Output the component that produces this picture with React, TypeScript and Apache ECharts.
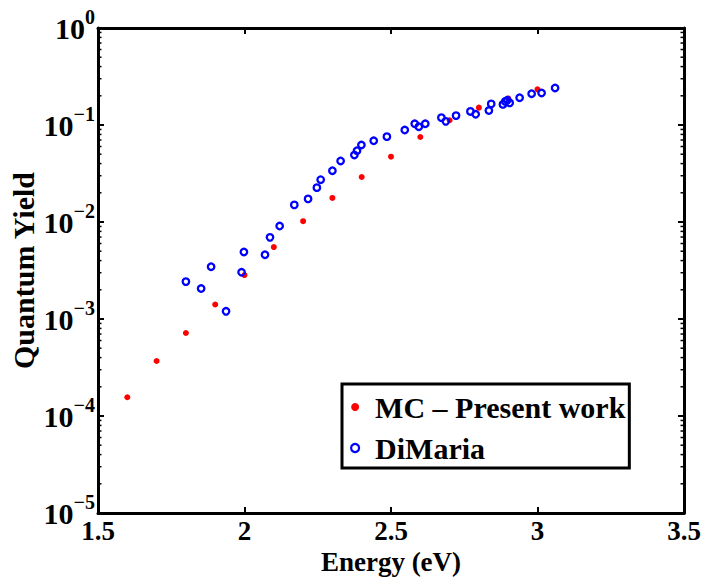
import React, { useEffect, useRef } from "react";
import * as echarts from "echarts";

const mcEnergy = [1.6, 1.7, 1.8, 1.9, 2.0, 2.1, 2.2, 2.3, 2.4, 2.5, 2.6, 2.7, 2.8, 2.9, 3.0];
const mcYield = [1.56e-4, 3.69e-4, 7.17e-4, 1.41e-3, 2.84e-3, 5.52e-3, 1.02e-2, 1.77e-2, 2.91e-2, 4.71e-2, 7.52e-2, 0.112, 0.151, 0.188, 0.233];

const diEnergy = [1.8, 1.852, 1.886, 1.937, 1.99, 1.998, 2.07, 2.087, 2.12, 2.17, 2.217, 2.247, 2.26, 2.3, 2.328, 2.375, 2.384, 2.399, 2.441, 2.486, 2.547, 2.581, 2.595, 2.617, 2.672, 2.687, 2.722, 2.771, 2.789, 2.834, 2.842, 2.882, 2.89, 2.897, 2.905, 2.939, 2.98, 3.014, 3.06];
const diYield = [2.43e-3, 2.06e-3, 3.46e-3, 1.2e-3, 3.03e-3, 4.91e-3, 4.6e-3, 6.95e-3, 9.09e-3, 1.5e-2, 1.73e-2, 2.26e-2, 2.73e-2, 3.38e-2, 4.26e-2, 4.91e-2, 5.43e-2, 6.22e-2, 6.88e-2, 7.58e-2, 8.88e-2, 0.103, 0.096, 0.103, 0.119, 0.109, 0.125, 0.138, 0.129, 0.141, 0.165, 0.163, 0.175, 0.18, 0.169, 0.191, 0.21, 0.214, 0.241];

const yTickExponents = [-5, -4, -3, -2, -1, 0];
const minorMantissas = [2, 3, 4, 5, 6, 7, 8, 9];
const seriesNames = ["MC \u2013 Present work", "DiMaria"];

const FONT = "'Liberation Serif', 'Times New Roman', serif";
const FS = 29;
const XFS = 27;

export default function App() {
  const ref = useRef<HTMLDivElement>(null);
  useEffect(() => {
    if (!ref.current) return;
    const chart = echarts.init(ref.current, null, { renderer: "svg" });
    const axisLine = { show: true, lineStyle: { color: "#000", width: 3 } };
    const tick = { show: true, inside: true, length: 6, lineStyle: { color: "#000", width: 2 } };
    const expLabel = (v: number) => {
      const e = Math.round(Math.log10(v));
      const found = yTickExponents.find((x) => x === e);
      const s = found === undefined ? String(e) : String(found);
      return `{b|10}{s|${s.replace("-", "\u2212")}}`;
    };
    const minorValues: number[] = [];
    yTickExponents.slice(0, -1).forEach((e) => {
      minorMantissas.forEach((m) => minorValues.push(m * Math.pow(10, e)));
    });
    chart.setOption({
      animation: false,
      backgroundColor: "#fff",
      textStyle: { fontFamily: FONT, fontWeight: "bold", color: "#000" },
      grid: { left: 98, right: 20, top: 28, bottom: 68, containLabel: false, outerBoundsMode: "none" },
      xAxis: [
        {
          type: "value",
          position: "bottom",
          min: 1.5,
          max: 3.5,
          interval: 0.5,
          name: "Energy (eV)",
          nameLocation: "middle",
          nameGap: 34,
          nameMoveOverlap: false,
          nameTextStyle: { fontFamily: FONT, fontWeight: "bold", fontSize: XFS, lineHeight: 30, color: "#000" },
          axisLine,
          axisTick: tick,
          splitLine: { show: false },
          axisLabel: { margin: 3, fontFamily: FONT, fontWeight: "bold", fontSize: XFS, lineHeight: 30, color: "#000" },
        },
        {
          type: "value",
          position: "top",
          min: 1.5,
          max: 3.5,
          interval: 0.5,
          axisLine,
          axisTick: tick,
          splitLine: { show: false },
          axisLabel: { show: false },
        },
      ],
      yAxis: [
        {
          type: "log",
          logBase: 10,
          position: "left",
          min: 1e-5,
          max: 1,
          name: "Quantum Yield",
          nameLocation: "middle",
          nameGap: 60,
          nameMoveOverlap: false,
          nameTextStyle: { fontFamily: FONT, fontWeight: "bold", fontSize: FS + 1, color: "#000" },
          axisLine,
          axisTick: tick,
          splitLine: { show: false },
          minorTick: { show: false },
          axisLabel: {
            margin: 3,
            formatter: expLabel,
            rich: {
              b: { fontFamily: FONT, fontWeight: "bold", fontSize: 30, color: "#000", lineHeight: 30 },
              s: { fontFamily: FONT, fontWeight: "bold", fontSize: 20, color: "#000", lineHeight: 20, padding: [0, 0, 22, 0] },
            },
          },
        },
        {
          type: "log",
          logBase: 10,
          position: "right",
          min: 1e-5,
          max: 1,
          axisLine,
          axisTick: tick,
          splitLine: { show: false },
          axisLabel: { show: false },
        },
      ],
      legend: {
        orient: "vertical",
        left: 342,
        top: 384,
        padding: [8, 4, 5, 8],
        itemGap: 11,
        itemWidth: 30,
        itemHeight: 8,
        borderColor: "#000",
        borderWidth: 3,
        backgroundColor: "#fff",
        textStyle: { fontFamily: FONT, fontWeight: "bold", fontSize: 30, color: "#000" },
        data: [
          { name: seriesNames[0], icon: "circle", itemStyle: { color: "#ff0000", borderWidth: 0 } },
          { name: seriesNames[1], icon: "circle", itemStyle: { color: "#ffffff", borderColor: "#0000ff", borderWidth: 2.2 } },
        ],
      },
      series: [
        {
          name: seriesNames[0],
          type: "scatter",
          symbol: "circle",
          symbolSize: 6,
          itemStyle: { color: "#ff0000", opacity: 1 },
          data: mcEnergy.map((e, i) => [e, mcYield[i]]),
        },
        {
          name: seriesNames[1],
          type: "scatter",
          symbol: "circle",
          symbolSize: 6.5,
          itemStyle: { color: "rgba(255,255,255,0)", borderColor: "#0000ff", borderWidth: 2.3, opacity: 1 },
          data: diEnergy.map((e, i) => [e, diYield[i]]),
        },
        {
          name: "minorTicks",
          type: "custom",
          silent: true,
          clip: false,
          data: minorValues.map((v) => [1.5, v]),
          renderItem: (params: any, api: any) => {
            const v = api.value(1);
            const l = api.coord([1.5, v]);
            const r = api.coord([3.5, v]);
            const style = { stroke: "#000", lineWidth: 1.5 };
            return {
              type: "group",
              children: [
                { type: "line", shape: { x1: l[0], y1: l[1], x2: l[0] + 3.5, y2: l[1] }, style },
                { type: "line", shape: { x1: r[0], y1: r[1], x2: r[0] - 3.5, y2: r[1] }, style },
              ],
            };
          },
        },
      ],
    });
    return () => chart.dispose();
  }, []);
  return (
    <div
      ref={ref}
      style={{ position: "fixed", left: 0, top: 0, width: 704, height: 581 }}
    />
  );
}
